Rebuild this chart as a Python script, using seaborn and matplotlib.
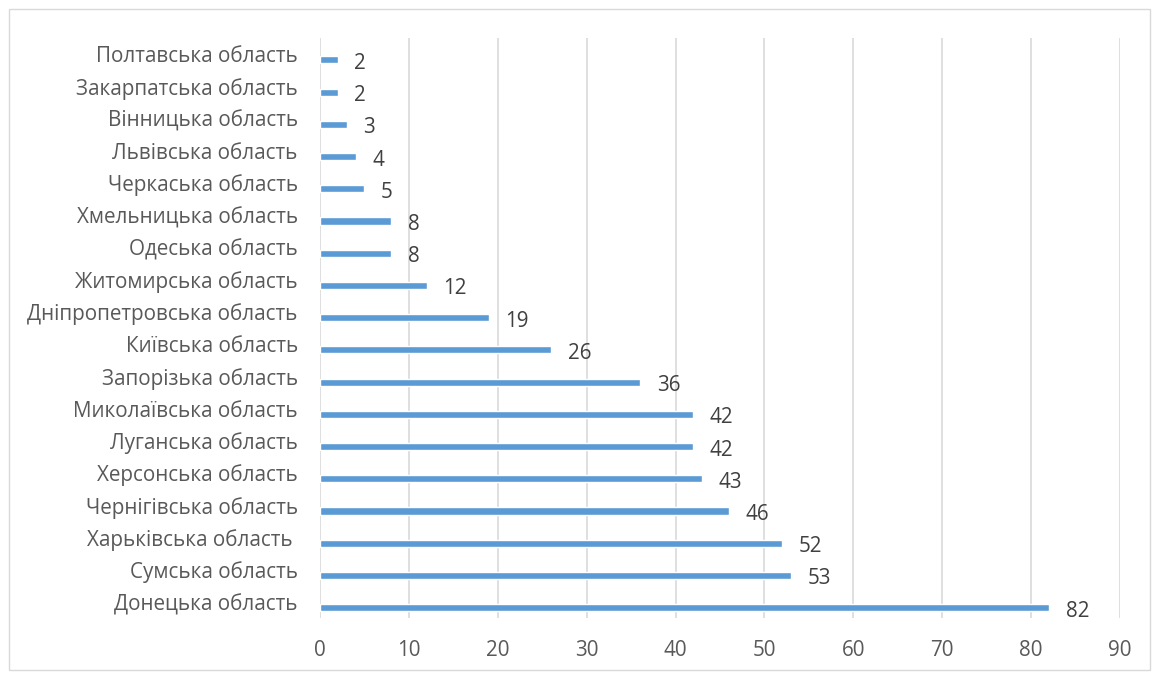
import matplotlib
matplotlib.use("Agg")
import matplotlib.pyplot as plt
import seaborn as sns
import pandas as pd
from matplotlib.patches import Rectangle

regions = [
    "Полтавська область", "Закарпатська область", "Вінницька область",
    "Львівська область", "Черкаська область", "Хмельницька область",
    "Одеська область", "Житомирська область", "Дніпропетровська область",
    "Київська область", "Запорізька область", "Миколаївська область",
    "Луганська область", "Херсонська область", "Чернігівська область",
    "Харьківська область ", "Сумська область", "Донецька область",
]
values = [2, 2, 3, 4, 5, 8, 8, 12, 19, 26, 36, 42, 42, 43, 46, 52, 53, 82]
x_ticks = [0, 10, 20, 30, 40, 50, 60, 70, 80, 90]

df = pd.DataFrame({"region": regions, "value": values})

sns.set_theme(style="white")
plt.rcParams['font.family'] = ['Open Sans', 'DejaVu Sans']

fig = plt.figure(figsize=(11.54, 6.75), dpi=100)
ax = fig.add_axes([320/1154, 1 - 618/675, (1120-320)/1154, (618-38)/675])

sns.barplot(data=df, x="value", y="region", orient="h", color="#5B9BD5",
            width=0.22, saturation=1, ax=ax, order=regions)

shift = 0.18
n = len(regions)
ax.set_xlim(0, 90)
ax.set_ylim(n - 0.5 - shift, -0.5 - shift)
ax.set_yticks([i - shift for i in range(n)])
ax.set_yticklabels(regions)
ax.set_xticks(x_ticks)
ax.grid(axis="x", color="#D9D9D9", linewidth=1.2)
ax.set_axisbelow(True)
for s in ax.spines.values():
    s.set_visible(False)
ax.set_xlabel("")
ax.set_ylabel("")
ax.tick_params(axis="y", length=0, labelsize=14.9, labelcolor="#595959", pad=16)
ax.tick_params(axis="x", length=0, labelsize=14.9, labelcolor="#595959", pad=16)

for i, v in enumerate(values):
    ax.annotate(str(v), (v, i), xytext=(12, -2.5), textcoords="offset points",
                ha="left", va="center", fontsize=14.9, color="#404040")

fig.patches.append(Rectangle((9/1154, 1 - 670/675), (1150-9)/1154, (670-9)/675,
                             transform=fig.transFigure, fill=False,
                             edgecolor="#D9D9D9", linewidth=1))

fig.savefig("out.png", dpi=100)
